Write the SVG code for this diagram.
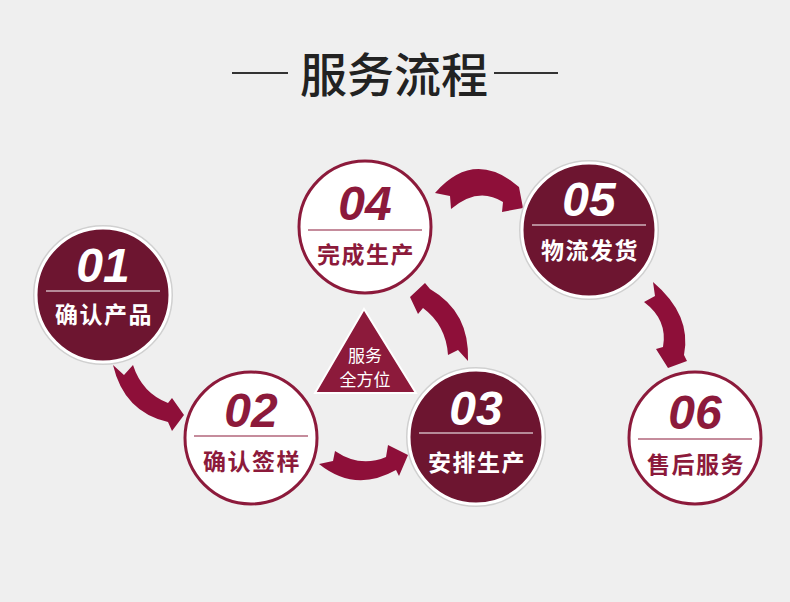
<svg xmlns="http://www.w3.org/2000/svg" width="790" height="602" viewBox="0 0 790 602">
<defs>
<style>
.num{font-family:"Liberation Sans",Arial,sans-serif;font-weight:bold;font-style:italic;font-size:48px;text-anchor:middle}
.lbl{font-family:"Noto Sans CJK SC",sans-serif;font-weight:bold;font-size:23px;letter-spacing:1.5px;text-anchor:middle}
.dark circle.c{fill:#6d1530;stroke:#fff;stroke-width:3}
.dark circle.sh{fill:none;stroke:#d0d0d0;stroke-width:2}
.dark text{fill:#fff}
.dark line{stroke:#fff;stroke-width:1.2}
.light circle.c{fill:#fff;stroke:#8c1a3b;stroke-width:3}
.light text{fill:#8c1a3b}
.light line{stroke:#8c1a3b;stroke-width:1.2}
.arr{fill:#8e0f39}
.tri{font-family:"Noto Sans CJK SC",sans-serif;font-size:17px;fill:#fff;text-anchor:middle}
</style>
</defs>
<rect width="790" height="602" fill="#efefef"/>
<g id="title">
<line x1="232" y1="73" x2="288" y2="73" stroke="#333" stroke-width="2"/>
<line x1="494" y1="73" x2="558" y2="73" stroke="#333" stroke-width="2"/>
<text x="394" y="92" font-family="'Noto Sans CJK SC',sans-serif" font-size="47" font-weight="500" fill="#222" text-anchor="middle">服务流程</text>
</g>
<g id="connectors">
<path class="arr" d="M113,365 L124,375 L133,365 Q142,393 168,403 L172,398 L184,415 L172,431 L168,422 Q124,412 113,365 Z"/>
<path class="arr" d="M335,451 Q360,468 386,457 L388,445 L408,455 L399,476 L396,470 Q355,493 319,464 L333,461 Z"/>
<path class="arr" d="M448,355 L458,350 L468,361 Q470,312 430,289 L425,283 L410,297 L418,314 L423,308 Q446,325 448,355 Z"/>
<path class="arr" d="M435,193 Q470,153 510,180 L519,187 L523,208 L502,212 L503,202 Q478,186 451,209 L450,196 Z"/>
<path class="arr" d="M653,282 Q692,315 684,355 L687,361 L668,368 L656,349 L663,347 Q668,320 644,302 L655,296 Z"/>
</g>
<g id="center">
<polygon points="364,309 315,393 416,393" fill="#8c1a3b" stroke="#fff" stroke-width="2"/>
<text class="tri" x="365" y="362">服务</text>
<text class="tri" x="365" y="386">全方位</text>
</g>
<g id="n01" class="dark">
<circle class="sh" cx="103" cy="295" r="69"/>
<circle class="c" cx="103" cy="295" r="67"/>
<text class="num" x="103" y="282">01</text>
<line x1="46" y1="291" x2="160" y2="291"/>
<text class="lbl" x="104" y="323">确认产品</text>
</g>
<g id="n02" class="light">
<circle class="c" cx="251" cy="438" r="66"/>
<text class="num" x="251" y="427">02</text>
<line x1="194" y1="436" x2="308" y2="436"/>
<text class="lbl" x="252" y="470">确认签样</text>
</g>
<g id="n03" class="dark">
<circle class="sh" cx="476" cy="437" r="69"/>
<circle class="c" cx="476" cy="437" r="67"/>
<text class="num" x="476" y="425">03</text>
<line x1="419" y1="433" x2="533" y2="433"/>
<text class="lbl" x="477" y="471">安排生产</text>
</g>
<g id="n04" class="light">
<circle class="c" cx="365" cy="227" r="66"/>
<text class="num" x="365" y="220">04</text>
<line x1="308" y1="230" x2="422" y2="230"/>
<text class="lbl" x="366" y="263">完成生产</text>
</g>
<g id="n05" class="dark">
<circle class="sh" cx="589" cy="230" r="69"/>
<circle class="c" cx="589" cy="230" r="67"/>
<text class="num" x="589" y="216">05</text>
<line x1="532" y1="225" x2="646" y2="225"/>
<text class="lbl" x="590" y="259">物流发货</text>
</g>
<g id="n06" class="light">
<circle class="c" cx="695" cy="438" r="66"/>
<text class="num" x="695" y="429">06</text>
<line x1="638" y1="439" x2="752" y2="439"/>
<text class="lbl" x="696" y="473">售后服务</text>
</g>
</svg>
